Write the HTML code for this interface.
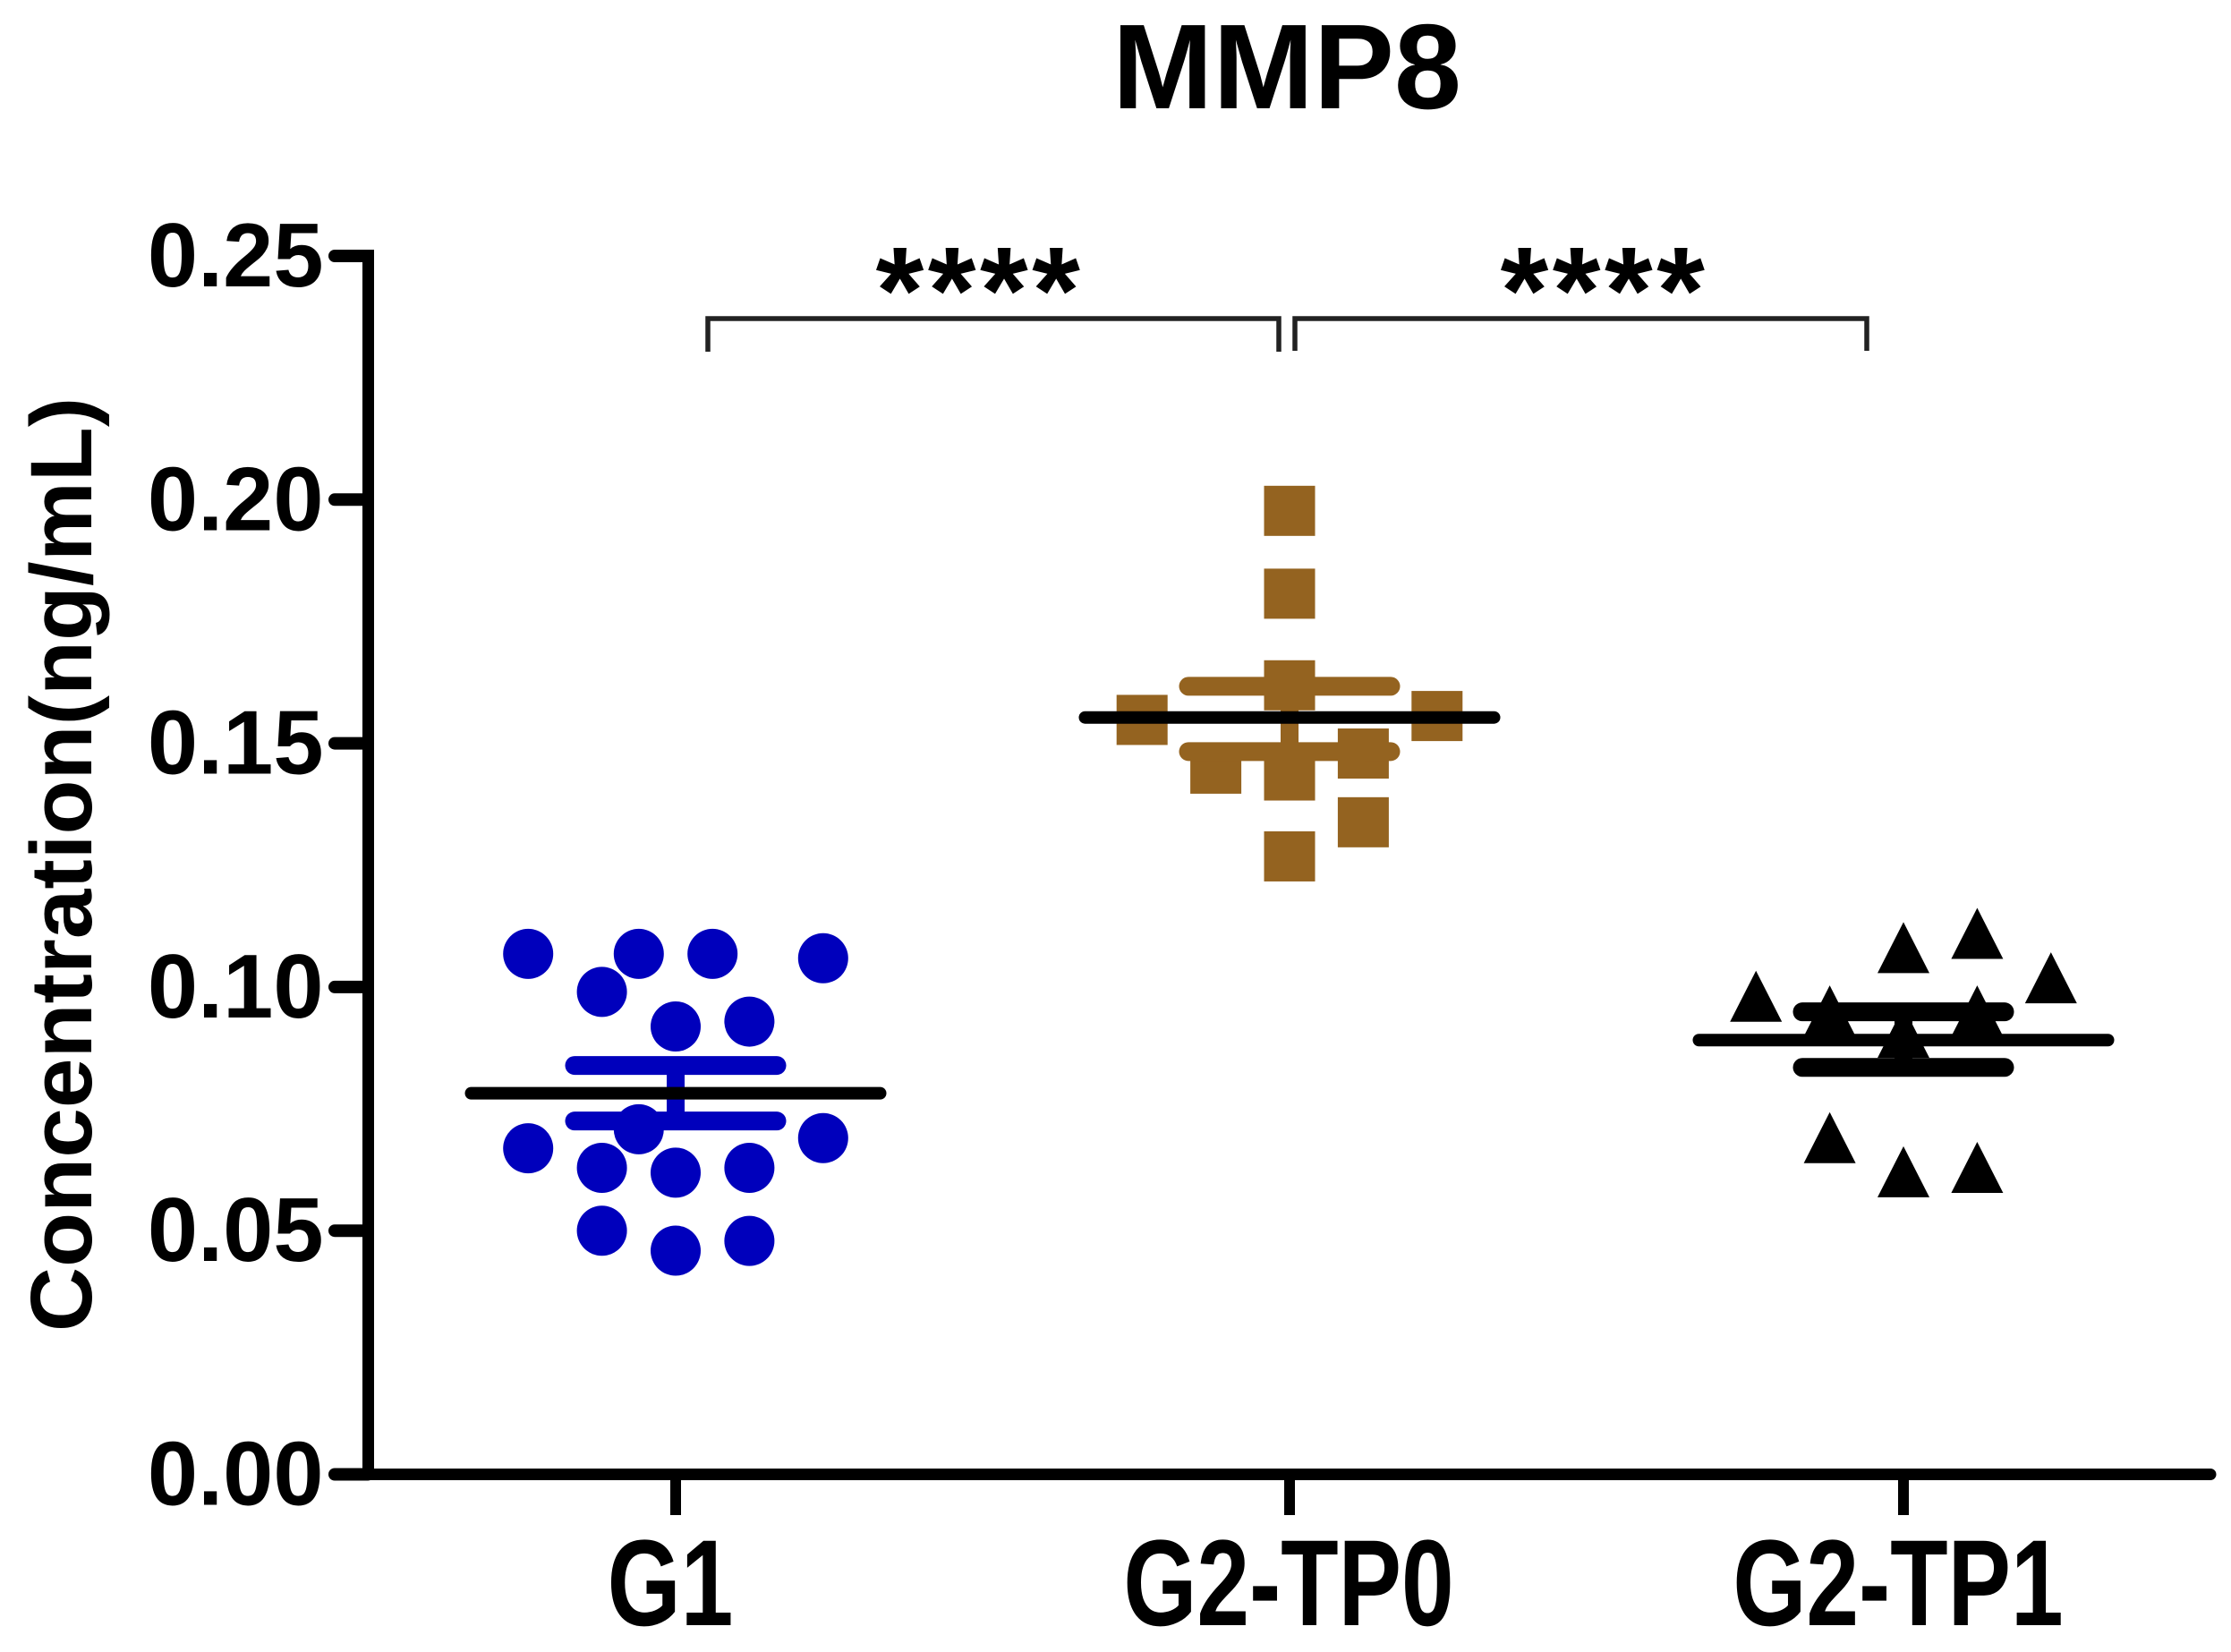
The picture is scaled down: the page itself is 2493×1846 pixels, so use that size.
<!DOCTYPE html>
<html lang="en">
<head>
<meta charset="utf-8">
<title>MMP8</title>
<style>
html,body{margin:0;padding:0;background:#fff;width:2493px;height:1846px;overflow:hidden}
svg{display:block}
text{font-family:"Liberation Sans",Arial,sans-serif;font-weight:bold;fill:#000}
</style>
</head>
<body>
<svg id="chart" xmlns="http://www.w3.org/2000/svg" width="2493" height="1846" viewBox="0 0 2493 1846">
  <rect width="2493" height="1846" fill="#ffffff"/>
  <text x="1438" y="121" font-size="135" text-anchor="middle">MMP8</text>
  <text transform="translate(102,966) rotate(-90) scale(1,0.97)" font-size="100" text-anchor="middle">Concentration(ng/mL)</text>
</svg>
<script>
// ---- data ----
const categories = ['G1', 'G2-TP0', 'G2-TP1'];
const yTickValues = [0, 0.05, 0.10, 0.15, 0.20, 0.25];
const yTickLabels = ['0.00', '0.05', '0.10', '0.15', '0.20', '0.25'];

const g1Values = [0.1068, 0.1068, 0.1068, 0.1059, 0.0990, 0.0919, 0.0929, 0.0708, 0.0669, 0.0690, 0.0629, 0.0619, 0.0629, 0.0500, 0.0459, 0.0479];
const g1Columns = [-4, -1, 1, 4, -2, 0, 2, -1, -4, 4, -2, 0, 2, -2, 0, 2];
const g1Mean = 0.0782;
const g1SemHigh = 0.0839;
const g1SemLow = 0.0725;

const tp0Values = [0.1977, 0.1807, 0.1619, 0.1548, 0.1556, 0.1479, 0.1448, 0.1434, 0.1338, 0.1268];
const tp0Columns = [0, 0, 0, -4, 4, 2, -2, 0, 2, 0];
const tp0Mean = 0.1553;
const tp0SemHigh = 0.1617;
const tp0SemLow = 0.1483;

const tp1Values = [0.0980, 0.1080, 0.1109, 0.1018, 0.0950, 0.0950, 0.0906, 0.0690, 0.0620, 0.0629];
const tp1Columns = [-4, 0, 2, 4, -2, 2, 0, -2, 0, 2];
const tp1Mean = 0.0891;
const tp1SemHigh = 0.0949;
const tp1SemLow = 0.0835;

// ---- axis functions ----
const NS = 'http://www.w3.org/2000/svg';
const svg = document.getElementById('chart');
function yScale(v) { return 1647.5 - v * 5446; }
function xScale(i) { return 755 + i * 686; }
const COLUMN_STEP = 41.2;

function make(tag, attrs, text) {
  const el = document.createElementNS(NS, tag);
  for (const k in attrs) el.setAttribute(k, attrs[k]);
  if (text !== undefined) el.textContent = text;
  svg.appendChild(el);
  return el;
}

// ---- axes ----
yTickValues.forEach(function (v, i) {
  const tick = make('line', { x1: 374, x2: 411, y1: yScale(v), y2: yScale(v), stroke: '#000', 'stroke-width': 14, 'stroke-linecap': 'round' });
  
  
  const label = make('text', { x: 361.5, y: yScale(v) + 34, 'font-size': 101, 'text-anchor': 'end' }, yTickLabels[i]);
  
  
});

const yAxisLine = make('line', { x1: 411.5, x2: 411.5, y1: yScale(0.25) - 7, y2: yScale(0), stroke: '#000', 'stroke-width': 13 });



const xAxisLine = make('line', { x1: 375, x2: 2470, y1: yScale(0), y2: yScale(0), stroke: '#000', 'stroke-width': 13, 'stroke-linecap': 'round' });



categories.forEach(function (c, i) {
  const tick = make('line', { x1: xScale(i), x2: xScale(i), y1: yScale(0), y2: 1693, stroke: '#000', 'stroke-width': 12 });
  
  
  const labelX = xScale(i) - (i === 1 ? 1 : 6);
  const label = make('text', { transform: 'translate(' + labelX + ',1816) scale(0.77,1)', 'font-size': 137, 'text-anchor': 'middle' }, c);
  
  
});

// ---- points ----
g1Values.forEach(function (v, i) {
  const dot = make('circle', { cx: xScale(0) + g1Columns[i] * COLUMN_STEP, cy: yScale(v), r: 28, fill: '#0000BC' });
  
  
});

tp0Values.forEach(function (v, i) {
  const cx = xScale(1) + tp0Columns[i] * COLUMN_STEP;
  const cy = yScale(v);
  const square = make('rect', { x: cx - 28.5, y: cy - 28, width: 57, height: 56, fill: '#946320' });
  
  
});

tp1Values.forEach(function (v, i) {
  const cx = xScale(2) + tp1Columns[i] * COLUMN_STEP;
  const cy = yScale(v);
  const pts = [cx + ',' + (cy - 29), (cx + 29) + ',' + (cy + 28), (cx - 29) + ',' + (cy + 28)].join(' ');
  const tri = make('polygon', { points: pts, fill: '#000' });
  
  
});

// ---- error bars and means ----
function drawSummary(i, mean, high, low, color) {
  const cx = xScale(i);
  const stem = make('line', { x1: cx, x2: cx, y1: yScale(high), y2: yScale(low), stroke: color, 'stroke-width': 20 });
  
  
  const top = make('line', { x1: cx - 113, x2: cx + 113, y1: yScale(high), y2: yScale(high), stroke: color, 'stroke-width': 21, 'stroke-linecap': 'round' });
  
  
  const bottom = make('line', { x1: cx - 113, x2: cx + 113, y1: yScale(low), y2: yScale(low), stroke: color, 'stroke-width': 21, 'stroke-linecap': 'round' });
  
  
  const m = make('line', { x1: cx - 228.5, x2: cx + 228.5, y1: yScale(mean), y2: yScale(mean), stroke: '#000', 'stroke-width': 14, 'stroke-linecap': 'round' });
  
  
}
drawSummary(0, g1Mean, g1SemHigh, g1SemLow, '#0000BC');
drawSummary(1, tp0Mean, tp0SemHigh, tp0SemLow, '#946320');
drawSummary(2, tp1Mean, tp1SemHigh, tp1SemLow, '#000');

// ---- significance brackets ----
const bracketA = make('path', { d: 'M791 393V356H1429V393', fill: 'none', stroke: '#222', 'stroke-width': 5.5 });


const bracketB = make('path', { d: 'M1447 392V356H2086V392', fill: 'none', stroke: '#222', 'stroke-width': 5.5 });


const starsA = make('text', { x: 1095, y: 372, 'font-size': 138, 'letter-spacing': 4.5, 'text-anchor': 'middle' }, '****');


const starsB = make('text', { x: 1793, y: 372, 'font-size': 138, 'letter-spacing': 4.5, 'text-anchor': 'middle' }, '****');


</script>
</body>
</html>
